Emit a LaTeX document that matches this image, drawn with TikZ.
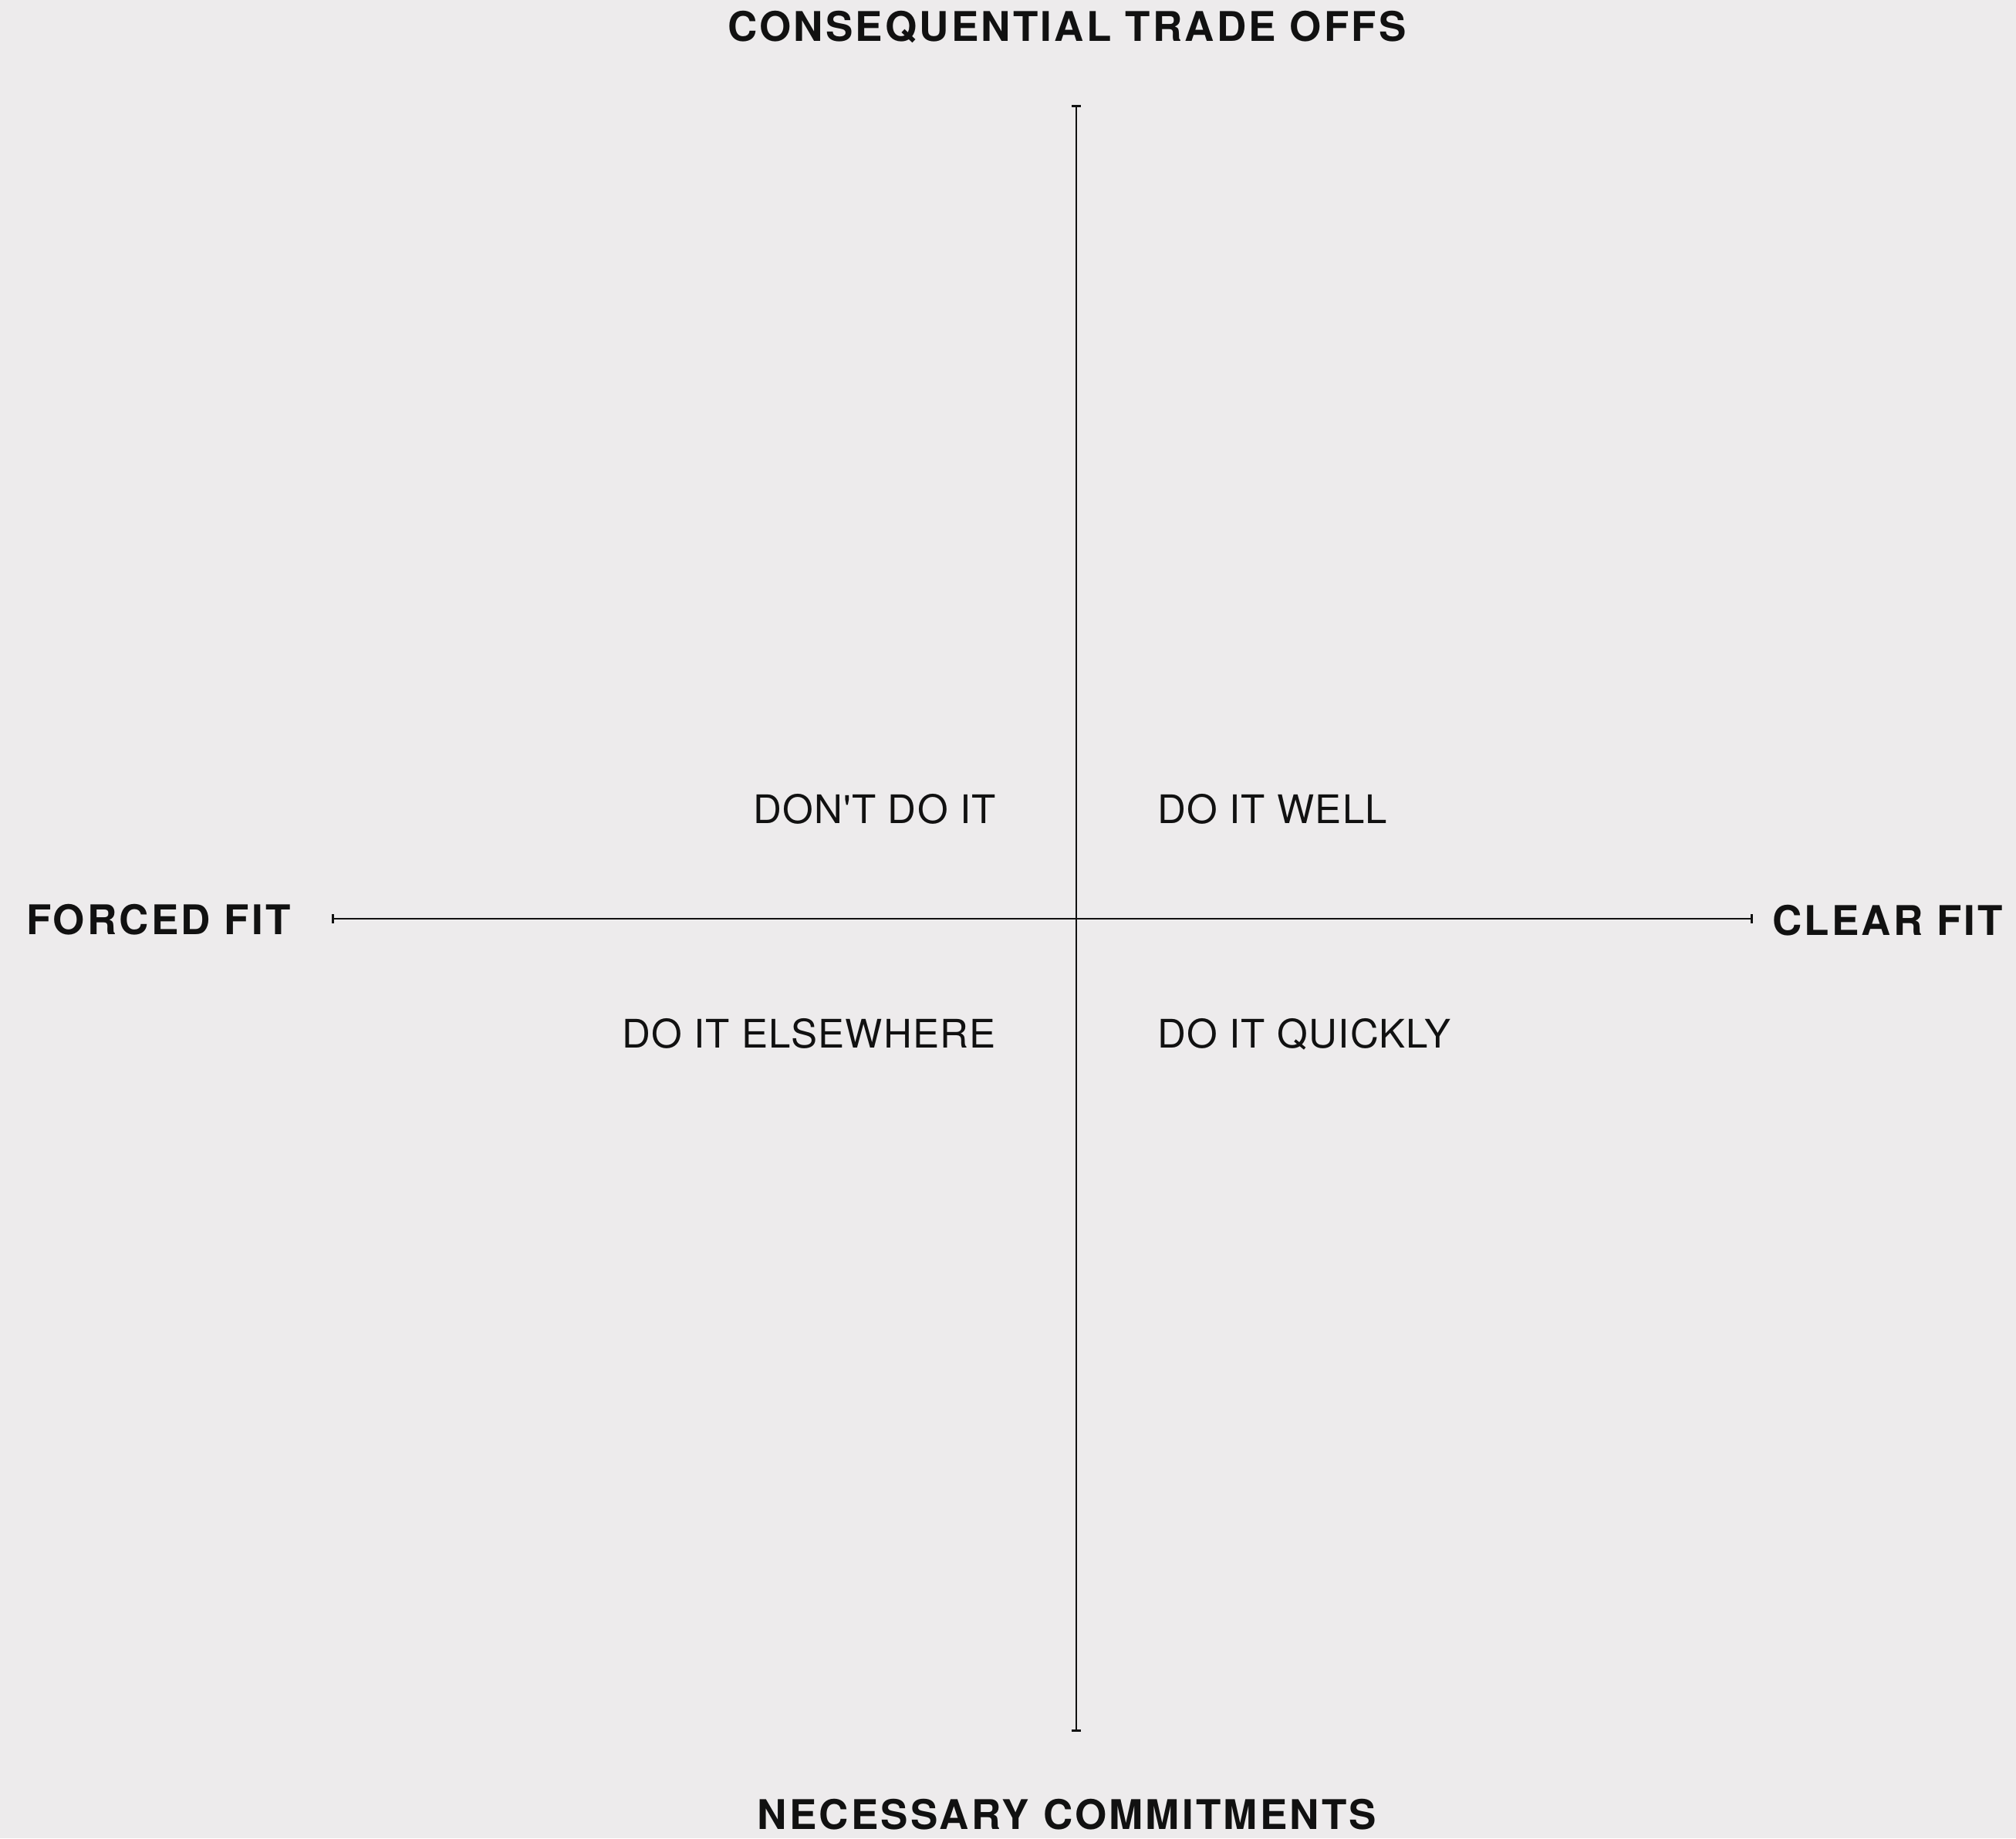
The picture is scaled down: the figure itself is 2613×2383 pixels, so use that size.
\documentclass[tikz,border=0pt]{standalone}
\usepackage{fontspec}
\setmainfont{TeX Gyre Heros}
\newfontfamily\labfont[LetterSpace=6]{TeX Gyre Heros}
\newfontfamily\quadfont[LetterSpace=2.5]{TeX Gyre Heros}
\usetikzlibrary{arrows.meta}
\definecolor{bgc}{RGB}{237,235,236}
\definecolor{ink}{RGB}{17,17,17}
\tikzset{
  axislabel/.style={inner sep=0pt, text=ink, font=\labfont\bfseries\fontsize{53}{60}\selectfont},
  quadlabel/.style={inner sep=0pt, text=ink, font=\quadfont\fontsize{51}{58}\selectfont},
  axisline/.style={draw=ink, line width=2.8pt, {Bar[width=12pt]}-{Bar[width=12pt]}}
}
\begin{document}
\begin{tikzpicture}[x=1pt,y=-1pt]
\fill[bgc] (0,0) rectangle (2613,2383);
\useasboundingbox (0,0) rectangle (2613,2383);
\coordinate (top) at (1395,136);
\coordinate (bot) at (1395,2245);
\coordinate (lft) at (430,1191);
\coordinate (rgt) at (2272,1191);
\draw[axisline] (top) -- (bot);
\draw[axisline] (lft) -- (rgt);
\node[axislabel, anchor=base] (tlab) at (1383,53) {CONSEQUENTIAL TRADE OFFS};
\node[axislabel, anchor=base] (blab) at (1383,2371) {NECESSARY COMMITMENTS};
\node[axislabel, anchor=base west] (llab) at (34,1211) {FORCED FIT};
\node[axislabel, anchor=base west] (rlab) at (2297,1212) {CLEAR FIT};
\node[quadlabel, anchor=base east] (q1) at (1291,1067) {DON'T DO IT};
\node[quadlabel, anchor=base west] (q2) at (1500,1067) {DO IT WELL};
\node[quadlabel, anchor=base east] (q3) at (1291,1358) {DO IT ELSEWHERE};
\node[quadlabel, anchor=base west] (q4) at (1500,1358) {DO IT QUICKLY};
\end{tikzpicture}
\end{document}
